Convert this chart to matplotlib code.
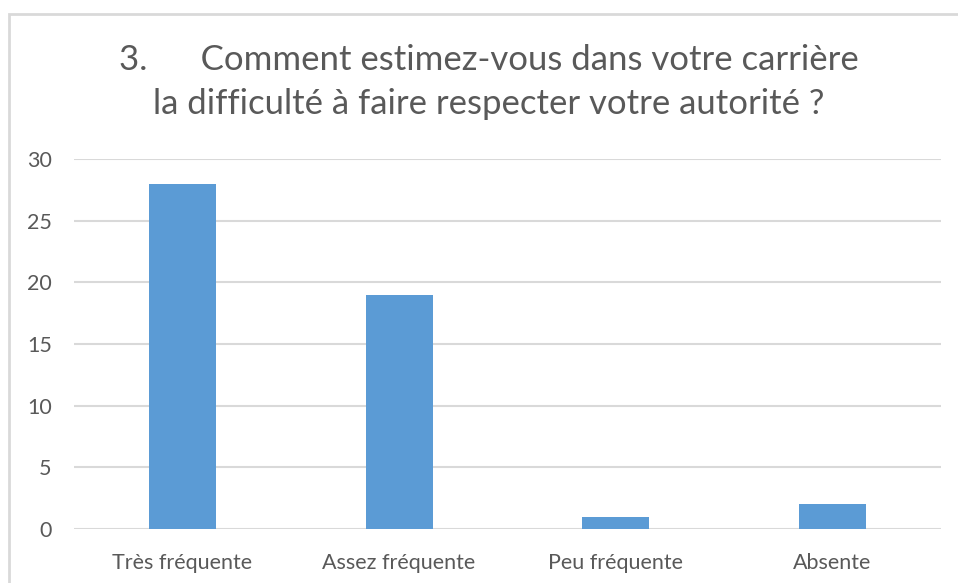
import matplotlib.pyplot as plt
from matplotlib.patches import Rectangle

categories = ["Très fréquente", "Assez fréquente", "Peu fréquente", "Absente"]
counts = [28, 19, 1, 2]
y_ticks = [0, 5, 10, 15, 20, 25, 30]

title = "3.      Comment estimez-vous dans votre carrière\nla difficulté à faire respecter votre autorité ?"

bar_color = "#5B9BD5"
text_color = "#595959"
grid_color = "#D9D9D9"

plt.rcParams['font.family'] = ['Lato', 'DejaVu Sans']

fig = plt.figure(figsize=(9.58, 5.83), dpi=100)

# chart frame (only left and top edges visible in the crop)
fig.patches.append(Rectangle((9 / 958, -0.1), 1.1, 1 - 14 / 583 + 0.1,
                             transform=fig.transFigure, fill=False,
                             edgecolor=grid_color, linewidth=2))

ax = fig.add_axes([74 / 958, 1 - 529 / 583, 867 / 958, 370 / 583])

x = range(len(categories))
ax.bar(x, counts, width=0.31, color=bar_color, zorder=3)

ax.set_xlim(-0.5, len(categories) - 0.5)
ax.set_ylim(0, 30)
ax.set_yticks(y_ticks)
ax.set_xticks(list(x))
ax.set_xticklabels(categories)
ax.yaxis.grid(True, color=grid_color, linewidth=1.5, zorder=0)
ax.tick_params(axis='both', length=0, colors=text_color, labelsize=15.5)
ax.tick_params(axis='y', pad=16)
ax.tick_params(axis='x', pad=17)
for s in ax.spines.values():
    s.set_visible(False)

fig.text(489 / 958, 1 - 82 / 583, title, ha='center', va='center',
         fontsize=25, color=text_color, linespacing=1.45)

fig.savefig("out.png", dpi=100)
